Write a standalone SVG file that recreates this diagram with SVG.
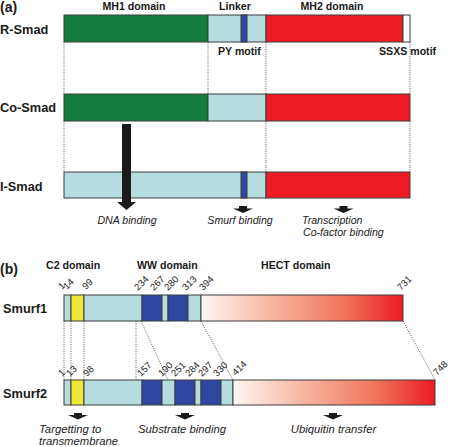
<svg xmlns="http://www.w3.org/2000/svg" width="452" height="447" viewBox="0 0 452 447">
<defs>
<linearGradient id="hect" x1="0" y1="0" x2="1" y2="0">
<stop offset="0" stop-color="#fff7f3"/>
<stop offset="0.35" stop-color="#f6b5a0"/>
<stop offset="0.7" stop-color="#f0775c"/>
<stop offset="1" stop-color="#ec1c24"/>
</linearGradient>
</defs>
<style>
.seg{stroke:#3c3c3c;stroke-width:1}
.g{fill:#127c3d}
.lb{fill:#b5dde0}
.bl{fill:#2f47a0}
.rd{fill:#ed1c24}
.yl{fill:#efe836}
.wh{fill:#ffffff}
.hc{fill:url(#hect)}
.dot{stroke:#333;stroke-width:0.8;stroke-dasharray:1 1.3;fill:none}
.arr{fill:#1a1a1a}
text{font-family:"Liberation Sans",Arial,Helvetica,sans-serif;fill:#1a1a1a}
.hd{font-weight:bold;font-size:10.6px}
.row{font-weight:bold;font-size:12.8px}
.pan{font-weight:bold;font-size:14px}
.it{font-style:italic;font-size:10.6px}
.it2{font-style:italic;font-size:11.3px}
.num{font-size:9.5px}
.mid{text-anchor:middle}
</style>
<rect width="452" height="447" fill="#ffffff"/>

<g id="headers">
<text class="pan" x="0" y="12">(a)</text>
<text class="hd mid" x="134" y="9.5">MH1 domain</text>
<text class="hd mid" x="235" y="9.5">Linker</text>
<text class="hd mid" x="332" y="9.5">MH2 domain</text>
<text class="hd" x="218" y="55">PY motif</text>
<text class="hd" x="379" y="55">SSXS motif</text>
<text class="pan" x="0" y="274">(b)</text>
<text class="hd" x="46" y="269">C2 domain</text>
<text class="hd" x="137" y="269">WW domain</text>
<text class="hd" x="261" y="269">HECT domain</text>
</g>

<g id="connectors">
<line class="dot" x1="64" y1="42" x2="64" y2="94"/>
<line class="dot" x1="208" y1="42" x2="208" y2="94"/>
<line class="dot" x1="266" y1="42" x2="266" y2="94"/>
<line class="dot" x1="410" y1="42" x2="410" y2="94"/>
<line class="dot" x1="64" y1="121" x2="64" y2="172"/>
<line class="dot" x1="266" y1="121" x2="266" y2="172"/>
<line class="dot" x1="410" y1="121" x2="410" y2="172"/>
<line class="dot" x1="64" y1="321" x2="64" y2="380"/>
<line class="dot" x1="71" y1="321" x2="71" y2="380"/>
<line class="dot" x1="84" y1="321" x2="84" y2="380"/>
<line class="dot" x1="136" y1="321" x2="136" y2="380"/>
<line class="dot" x1="141" y1="321" x2="168" y2="380"/>
<line class="dot" x1="201" y1="321" x2="233" y2="380"/>
<line class="dot" x1="403" y1="321" x2="435" y2="380"/>
</g>

<g id="r-smad">
<rect class="seg g" x="64" y="15" width="144" height="27"/>
<rect class="seg lb" x="208" y="15" width="58" height="27"/>
<rect class="seg bl" x="241" y="15" width="6" height="27"/>
<rect class="seg rd" x="266" y="15" width="137" height="27"/>
<rect class="seg wh" x="403" y="15" width="7" height="27"/>
<text class="row" x="0" y="34">R-Smad</text>
</g>

<g id="co-smad">
<rect class="seg g" x="64" y="94" width="144" height="27"/>
<rect class="seg lb" x="208" y="94" width="58" height="27"/>
<rect class="seg rd" x="266" y="94" width="144" height="27"/>
<text class="row" x="0" y="111.5">Co-Smad</text>
</g>

<g id="i-smad">
<rect class="seg lb" x="64" y="172" width="202" height="26"/>
<rect class="seg bl" x="241" y="172" width="6" height="26"/>
<rect class="seg rd" x="266" y="172" width="144" height="26"/>
<text class="row" x="0" y="191">I-Smad</text>
</g>

<g id="arrows-a">
<polygon class="arr" points="122,124 131,124 131,202 136,202 126.5,210 117,202 122,202"/>
<path class="arr" d="M239 206h8v2.5h6l-10 4.5l-10-4.5h6z"/>
<path class="arr" d="M339.5 206h8v2.5h6l-10 4.5l-10-4.5h6z"/>
<text class="it mid" x="127" y="224">DNA binding</text>
<text class="it mid" x="240" y="224">Smurf binding</text>
<text class="it" x="302" y="224">Transcription</text>
<text class="it" x="303" y="236">Co-factor binding</text>
</g>

<g id="smurf1">
<rect class="seg lb" x="64" y="295" width="7" height="26"/>
<rect class="seg yl" x="71" y="295" width="13" height="26"/>
<rect class="seg lb" x="84" y="295" width="58" height="26"/>
<rect class="seg bl" x="142" y="295" width="20" height="26"/>
<rect class="seg lb" x="162" y="295" width="6" height="26"/>
<rect class="seg bl" x="168" y="295" width="20" height="26"/>
<rect class="seg lb" x="188" y="295" width="13" height="26"/>
<rect class="seg hc" x="201" y="295" width="202" height="26"/>
<text class="row" x="3" y="312.5">Smurf1</text>
<text class="num" transform="translate(62 290) rotate(-45)">1</text>
<text class="num" transform="translate(67 290) rotate(-45)">14</text>
<text class="num" transform="translate(86 290) rotate(-45)">99</text>
<text class="num" transform="translate(138 291) rotate(-45)">234</text>
<text class="num" transform="translate(154 291) rotate(-45)">267</text>
<text class="num" transform="translate(168 291) rotate(-45)">280</text>
<text class="num" transform="translate(186 291) rotate(-45)">313</text>
<text class="num" transform="translate(203 291) rotate(-45)">394</text>
<text class="num" transform="translate(401 291) rotate(-45)">731</text>
</g>

<g id="smurf2">
<rect class="seg lb" x="64" y="380" width="7" height="25"/>
<rect class="seg yl" x="71" y="380" width="13" height="25"/>
<rect class="seg lb" x="84" y="380" width="58" height="25"/>
<rect class="seg bl" x="142" y="380" width="20" height="25"/>
<rect class="seg lb" x="162" y="380" width="13" height="25"/>
<rect class="seg bl" x="175" y="380" width="20" height="25"/>
<rect class="seg lb" x="195" y="380" width="6" height="25"/>
<rect class="seg bl" x="201" y="380" width="20" height="25"/>
<rect class="seg lb" x="221" y="380" width="12" height="25"/>
<rect class="seg hc" x="233" y="380" width="202" height="25"/>
<text class="row" x="3" y="398">Smurf2</text>
<text class="num" transform="translate(62 377) rotate(-45)">1</text>
<text class="num" transform="translate(70 377) rotate(-45)">13</text>
<text class="num" transform="translate(87 377) rotate(-45)">98</text>
<text class="num" transform="translate(141 377) rotate(-45)">157</text>
<text class="num" transform="translate(162 377) rotate(-45)">190</text>
<text class="num" transform="translate(175 377) rotate(-45)">251</text>
<text class="num" transform="translate(189 377) rotate(-45)">284</text>
<text class="num" transform="translate(202 377) rotate(-45)">297</text>
<text class="num" transform="translate(217 377) rotate(-45)">330</text>
<text class="num" transform="translate(236 376) rotate(-45)">414</text>
<text class="num" transform="translate(437 376) rotate(-45)">748</text>
</g>

<g id="arrows-b">
<path class="arr" d="M74 413h8v2h6l-10 4.5l-10-4.5h6z"/>
<path class="arr" d="M181 413h8v2h6l-10 4.5l-10-4.5h6z"/>
<path class="arr" d="M329 413h8v2h6l-10 4.5l-10-4.5h6z"/>
<text class="it2" x="39" y="433">Targetting to</text>
<text class="it2" x="39" y="445">transmembrane</text>
<text class="it2 mid" x="182" y="433">Substrate binding</text>
<text class="it2 mid" x="333.5" y="433">Ubiquitin transfer</text>
</g>
</svg>
